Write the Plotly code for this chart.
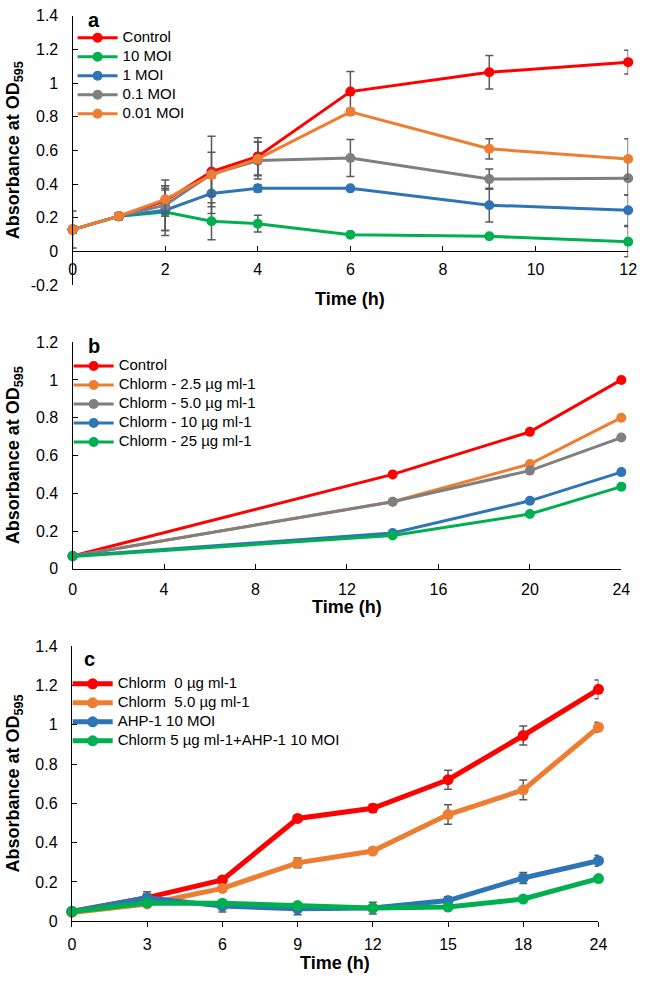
import plotly.graph_objects as go

# ---------------- Panel a data ----------------
time_a = [0, 1, 2, 3, 4, 6, 9, 12]
control_a = [0.13, 0.21, 0.30, 0.475, 0.565, 0.95, 1.065, 1.125]
moi10_a = [0.13, 0.21, 0.235, 0.18, 0.165, 0.10, 0.09, 0.058]
moi1_a = [0.13, 0.21, 0.245, 0.345, 0.375, 0.375, 0.275, 0.245]
moi01_a = [0.13, 0.21, 0.275, 0.46, 0.54, 0.555, 0.43, 0.435]
moi001_a = [0.13, 0.21, 0.31, 0.455, 0.55, 0.83, 0.61, 0.55]
control_a_err = [0.11, 0.02, 0.09, 0.21, 0.11, 0.12, 0.10, 0.07]
moi10_a_err = [0.02, 0.02, 0.14, 0.11, 0.05, 0.01, 0.01, 0.09]
moi1_a_err = [0.02, 0.02, 0.12, 0.12, 0.02, 0.01, 0.10, 0.09]
moi01_a_err = [0.02, 0.02, 0.15, 0.13, 0.11, 0.11, 0.06, 0.10]
moi001_a_err = [0.02, 0.02, 0.08, 0.02, 0.10, 0.02, 0.06, 0.12]
names_a = ["Control", "10 MOI", "1 MOI", "0.1 MOI", "0.01 MOI"]
yticks_a = [-0.2, 0, 0.2, 0.4, 0.6, 0.8, 1, 1.2, 1.4]
yticklabels_a = ["-0.2", "0", "0.2", "0.4", "0.6", "0.8", "1", "1.2", "1.4"]
xticks_a = [0, 2, 4, 6, 8, 10, 12]

# ---------------- Panel b data ----------------
time_b = [0, 14, 20, 24]
control_b = [0.068, 0.50, 0.725, 1.0]
chl25_b = [0.068, 0.355, 0.555, 0.80]
chl50_b = [0.068, 0.355, 0.52, 0.695]
chl10_b = [0.068, 0.19, 0.36, 0.512]
chl250_b = [0.065, 0.177, 0.29, 0.435]
names_b = ["Control", "Chlorm - 2.5 µg ml-1", "Chlorm - 5.0 µg ml-1",
           "Chlorm - 10 µg ml-1", "Chlorm - 25 µg ml-1"]
xticks_b = [0, 4, 8, 12, 16, 20, 24]

# ---------------- Panel c data ----------------
time_c = ["0", "3", "6", "9", "12", "15", "18", "24"]
chl0_c = [0.05, 0.12, 0.21, 0.523, 0.575, 0.72, 0.945, 1.18]
chl5_c = [0.045, 0.088, 0.167, 0.297, 0.357, 0.543, 0.668, 0.987]
ahp_c = [0.05, 0.12, 0.077, 0.063, 0.067, 0.105, 0.22, 0.308]
combo_c = [0.05, 0.093, 0.092, 0.08, 0.068, 0.072, 0.113, 0.217]
chl0_c_err = [0.01, 0.02, 0.015, 0.015, 0.02, 0.048, 0.048, 0.048]
chl5_c_err = [0.01, 0.01, 0.01, 0.025, 0.01, 0.05, 0.05, 0.025]
ahp_c_err = [0.01, 0.03, 0.03, 0.03, 0.03, 0.02, 0.028, 0.028]
combo_c_err = [0.01, 0.01, 0.01, 0.01, 0.01, 0.01, 0.01, 0.01]
names_c = ["Chlorm  0 µg ml-1", "Chlorm  5.0 µg ml-1", "AHP-1 10 MOI",
           "Chlorm 5 µg ml-1+AHP-1 10 MOI"]

RED = "#FF0000"
GREEN = "#00B050"
BLUE = "#2E75B6"
GRAY = "#7F7F7F"
ORANGE = "#ED7D31"
ERRC = "#595959"
FONT = "Liberation Sans, Arial, sans-serif"
W, H = 646, 984


def px(v):
    return v / W


def py(v):
    return 1 - v / H


def lname(s):
    return "<span style='font-size:15px'>" + s + "</span>"


fig = go.Figure()

# Panel a traces
for ys, es, col, nm in [
    (control_a, control_a_err, RED, names_a[0]),
    (moi10_a, moi10_a_err, GREEN, names_a[1]),
    (moi1_a, moi1_a_err, BLUE, names_a[2]),
    (moi01_a, moi01_a_err, GRAY, names_a[3]),
    (moi001_a, moi001_a_err, ORANGE, names_a[4]),
]:
    fig.add_trace(go.Scatter(
        x=time_a, y=ys, name=lname(nm), mode="lines+markers",
        line=dict(color=col, width=3), marker=dict(color=col, size=10),
        error_y=dict(type="data", array=es, visible=True, color=ERRC,
                     thickness=1.5, width=4),
        xaxis="x", yaxis="y", legend="legend", cliponaxis=False))

# Panel b traces
for ys, col, nm in [
    (control_b, RED, names_b[0]),
    (chl25_b, ORANGE, names_b[1]),
    (chl50_b, GRAY, names_b[2]),
    (chl10_b, BLUE, names_b[3]),
    (chl250_b, GREEN, names_b[4]),
]:
    fig.add_trace(go.Scatter(
        x=time_b, y=ys, name=lname(nm), mode="lines+markers",
        line=dict(color=col, width=3), marker=dict(color=col, size=10),
        xaxis="x2", yaxis="y2", legend="legend2", cliponaxis=False))

# Panel c traces
for ys, es, col, nm in [
    (chl0_c, chl0_c_err, RED, names_c[0]),
    (chl5_c, chl5_c_err, ORANGE, names_c[1]),
    (ahp_c, ahp_c_err, BLUE, names_c[2]),
    (combo_c, combo_c_err, GREEN, names_c[3]),
]:
    fig.add_trace(go.Scatter(
        x=time_c, y=ys, name=lname(nm), mode="lines+markers",
        line=dict(color=col, width=5), marker=dict(color=col, size=11),
        error_y=dict(type="data", array=es, visible=True, color=ERRC,
                     thickness=1.5, width=4),
        xaxis="x3", yaxis="y3", legend="legend3", cliponaxis=False))

axis_common = dict(showline=True, linecolor="black", linewidth=1.3,
                   showgrid=False, zeroline=False, tickcolor="black",
                   tickwidth=1.3, ticklen=5,
                   tickfont=dict(family=FONT, size=16, color="black"))

dom_a_y = [py(282), py(8)]
dom_b_y = [py(570.7), py(340)]
dom_c_y = [py(929.3), py(649.3)]

fig.update_layout(
    width=W, height=H, margin=dict(l=0, r=0, t=0, b=0),
    paper_bgcolor="white", plot_bgcolor="rgba(0,0,0,0)",
    font=dict(family=FONT, color="black"),
    xaxis=dict(domain=[px(70), px(637)], range=[0, 12], tickvals=xticks_a,
               ticks="inside", anchor="free", position=py(247),
               ticklabelstandoff=4, **axis_common),
    yaxis=dict(domain=dom_a_y, range=[-0.2, 1.4], tickvals=yticks_a,
               ticktext=yticklabels_a, ticks="inside", anchor="x",
               ticklabelstandoff=10, **axis_common),
    xaxis2=dict(domain=[px(70), px(630)], range=[0, 24], tickvals=xticks_b,
                ticks="inside", anchor="y2", ticklabelstandoff=6,
                **axis_common),
    yaxis2=dict(domain=dom_b_y, range=[0, 1.2], dtick=0.2, ticks="inside",
                anchor="x2", ticklabelstandoff=10, **axis_common),
    xaxis3=dict(domain=[px(69.3), px(606.7)], type="category",
                range=[0, 7], ticks="outside", anchor="y3",
                ticklabelstandoff=3, **axis_common),
    yaxis3=dict(domain=dom_c_y, range=[0, 1.4], dtick=0.2, ticks="inside",
                anchor="x3", ticklabelstandoff=10, **axis_common),
)

leg_common = dict(bgcolor="rgba(0,0,0,0)", borderwidth=0, xanchor="left",
                  yanchor="top", itemwidth=40,
                  font=dict(family=FONT, size=11, color="black"))
fig.update_layout(
    legend=dict(x=px(70), y=py(15.5), **leg_common),
    legend2=dict(x=px(66), y=py(349.5), **leg_common),
    legend3=dict(x=px(65), y=py(673), **leg_common),
)

annotations = []
for lbl, x, y in [("a", 92, 12), ("b", 92, 344), ("c", 87, 662)]:
    annotations.append(dict(text="<b>" + lbl + "</b>", x=px(x), y=py(y),
                            xref="paper", yref="paper", showarrow=False,
                            xanchor="center", yanchor="middle",
                            font=dict(family=FONT, size=20, color="black")))
for y, xc in [(296, (70 + 637) / 2), (610, (70 + 630) / 2),
              (972, (69.3 + 606.7) / 2)]:
    annotations.append(dict(text="<b>Time (h)</b>", x=px(xc), y=py(y),
                            xref="paper", yref="paper", showarrow=False,
                            xanchor="center", yanchor="middle",
                            font=dict(family=FONT, size=18, color="black")))
for dom in [dom_a_y, dom_b_y, dom_c_y]:
    annotations.append(dict(text="<b>Absorbance at OD<sub>595</sub></b>",
                            x=px(11), y=(dom[0] + dom[1]) / 2,
                            xref="paper", yref="paper", showarrow=False,
                            textangle=-90, xanchor="center", yanchor="middle",
                            font=dict(family=FONT, size=18, color="black")))
fig.update_layout(annotations=annotations)

fig.write_html("out.html",
               config={"displayModeBar": False},
               post_script="document.body.style.margin='0';"
                           "document.body.style.overflow='hidden';")
